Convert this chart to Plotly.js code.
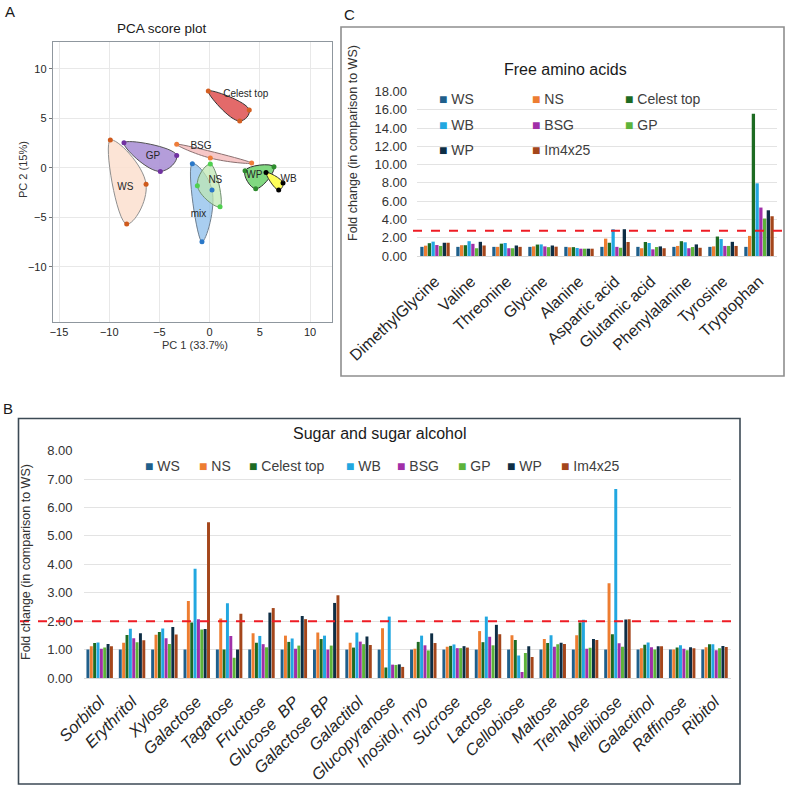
<!DOCTYPE html>
<html>
<head>
<meta charset="utf-8">
<script src="https://cdn.plot.ly/plotly-3.0.1.min.js"></script>
<style>
  html, body { margin: 0; padding: 0; background: #ffffff; }
  #fig { width: 794px; height: 792px; }
</style>
</head>
<body>
<div id="fig"></div>
<script>
// ---------------- series shared by the two bar panels ----------------
const seriesNames  = ['WS', 'NS', 'Celest top', 'WB', 'BSG', 'GP', 'WP', 'Im4x25'];
const seriesColors = ['#1f5f8b', '#ed7d31', '#1d6b22', '#22a7e0', '#a12fa8', '#5db33a', '#0e2e45', '#a4461b'];

// ---------------- panel C: free amino acids (fold change vs WS) ----------------
const aminoAcids = ['DimethylGlycine', 'Valine', 'Threonine', 'Glycine', 'Alanine',
                    'Aspartic acid', 'Glutamic acid', 'Phenylalanine', 'Tyrosine', 'Tryptophan'];
const aaWS     = [1, 1, 1, 1, 1, 1, 1, 1, 1, 1];
const aaNS     = [1.13, 1.18, 1.00, 1.05, 0.95, 1.90, 0.85, 1.10, 1.05, 2.20];
const aaCelest = [1.40, 1.18, 1.35, 1.25, 0.97, 1.45, 1.53, 1.62, 2.13, 15.55];
const aaWB     = [1.57, 1.62, 1.42, 1.27, 0.88, 2.93, 1.42, 1.50, 1.85, 7.95];
const aaBSG    = [1.20, 1.33, 0.85, 1.05, 0.80, 1.00, 0.73, 0.85, 1.10, 5.30];
const aaGP     = [1.10, 0.85, 0.85, 0.97, 0.80, 0.90, 0.98, 0.98, 1.10, 4.10];
const aaWP     = [1.45, 1.55, 1.15, 1.15, 0.80, 2.93, 1.05, 1.27, 1.55, 5.00];
const aaIm     = [1.45, 1.15, 1.00, 1.02, 0.80, 1.53, 0.85, 0.90, 1.10, 4.35];
const aaThreshold = 2.76;

// ---------------- panel B: sugars and sugar alcohols ----------------
const sugars = ['Sorbitol', 'Erythritol', 'Xylose', 'Galactose', 'Tagatose', 'Fructose',
                'Glucose  BP', 'Galactose BP', 'Galactitol', 'Glucopyranose', 'Inositol, myo',
                'Sucrose', 'Lactose', 'Cellobiose', 'Maltose', 'Trehalose', 'Melibiose',
                'Galactinol', 'Raffinose', 'Ribitol'];
const sgWS     = [1, 1, 1, 1, 1, 1, 1, 1, 1, 1, 1, 1, 1, 1, 1, 1, 1, 1, 1, 1];
const sgNS     = [1.12, 1.24, 1.52, 2.71, 2.09, 1.57, 1.49, 1.60, 1.24, 1.75, 1.03, 1.10, 1.65, 1.50, 1.37, 1.50, 3.33, 1.05, 1.00, 1.08];
const sgCelest = [1.23, 1.51, 1.62, 1.95, 1.00, 1.24, 1.27, 1.37, 1.07, 0.37, 1.27, 1.13, 1.26, 1.34, 1.23, 1.95, 1.54, 1.17, 1.07, 1.19];
const sgWB     = [1.25, 1.73, 1.74, 3.84, 2.63, 1.48, 1.39, 1.49, 1.60, 2.16, 1.49, 1.18, 2.16, 0.79, 1.50, 2.05, 6.65, 1.25, 1.15, 1.19];
const sgBSG    = [1.03, 1.40, 1.40, 2.07, 1.48, 1.19, 1.03, 1.00, 1.28, 0.47, 1.15, 1.05, 1.45, 0.21, 1.10, 1.03, 1.22, 1.08, 1.03, 0.98];
const sgGP     = [1.07, 1.26, 1.20, 1.71, 0.71, 1.08, 1.14, 1.14, 1.19, 0.46, 0.97, 1.05, 1.15, 0.88, 1.19, 1.06, 1.10, 1.00, 0.98, 1.05];
const sgWP     = [1.20, 1.57, 1.79, 1.72, 1.00, 2.30, 2.18, 2.64, 1.46, 0.48, 1.57, 1.12, 1.87, 1.12, 1.24, 1.37, 2.06, 1.12, 1.08, 1.13];
const sgIm     = [1.12, 1.33, 1.53, 5.48, 2.26, 2.46, 2.07, 2.91, 1.16, 0.39, 1.23, 1.07, 1.54, 0.74, 1.20, 1.34, 2.07, 1.12, 1.05, 1.09];
const sgThreshold = 2.0;

// ---------------- panel A: PCA scores (3 replicates per sample) ----------------
const pcaGroups = ['mix', 'NS', 'WS', 'GP', 'BSG', 'Celest top', 'WP', 'WB'];
const pcaPC1 = [
  [-0.76, -1.72, 0.24],     // mix
  [1.04, 0.07, -1.22],      // NS
  [-9.89, -6.33, -8.26],    // WS
  [-8.53, -3.28, -4.91],    // GP
  [-3.28, 4.19, 0.07],      // BSG
  [-0.13, 3.95, 3.00],      // Celest top
  [3.53, 6.41, 4.59],       // WP
  [5.62, 7.31, 6.88]        // WB
];
const pcaPC2 = [
  [-7.48, 0.42, -2.25],
  [-3.94, 0.38, -1.81],
  [2.81, -1.67, -5.69],
  [2.54, 1.26, -0.36],
  [2.38, 0.49, 0.99],
  [7.77, 5.85, 4.74],
  [-0.29, 0.11, -2.11],
  [-0.46, -1.54, -2.25]
];
const pcaLabelPC1 = [-1.10, 0.57, -8.40, -5.64, -0.86, 3.60, 4.45, 7.87];
const pcaLabelPC2 = [-4.71, -1.24, -1.94, 1.12, 2.14, 7.44, -0.80, -1.13];

// ---------------- styling ----------------
const FONT = 'Liberation Sans, Arial, sans-serif';
const W = 794, H = 792;
const px = v => v / W;           // horizontal pixel -> paper
const py = v => 1 - v / H;       // vertical pixel -> paper

const hullFill  = ['rgba(140,190,235,0.75)', 'rgba(190,232,178,0.72)', 'rgba(251,223,207,0.85)',
                   'rgba(172,146,214,0.9)', 'rgba(246,196,196,0.95)', 'rgba(226,98,98,0.95)',
                   'rgba(122,214,122,0.95)', 'rgba(255,255,90,1)'];
const hullLine  = ['#6f7f8f', '#6f8f6f', '#8f8f8f', '#555555', '#8a6f6f', '#333333', '#333333', '#333333'];
const pointCol  = ['#2a78c8', '#4fd04f', '#cf5a1c', '#7030a0', '#ee7d3a', '#d45f22', '#2e8b2e', '#000000'];

const traces = [];

// PCA hulls, points and labels
pcaGroups.forEach((g, i) => {
  const xs = pcaPC1[i].concat([pcaPC1[i][0]]);
  const ys = pcaPC2[i].concat([pcaPC2[i][0]]);
  traces.push({
    type: 'scatter', mode: 'lines', x: xs, y: ys, xaxis: 'x', yaxis: 'y',
    fill: 'toself', fillcolor: hullFill[i],
    line: { color: hullLine[i], width: 1, shape: 'spline', smoothing: 1.3 },
    hoverinfo: 'skip', showlegend: false
  });
});
pcaGroups.forEach((g, i) => {
  traces.push({
    type: 'scatter', mode: 'markers', x: pcaPC1[i], y: pcaPC2[i], xaxis: 'x', yaxis: 'y',
    marker: { color: pointCol[i], size: 5 }, name: g, showlegend: false
  });
});
traces.push({
  type: 'scatter', mode: 'text', x: pcaLabelPC1, y: pcaLabelPC2, text: pcaGroups,
  xaxis: 'x', yaxis: 'y', textfont: { family: FONT, size: 10, color: '#262626' },
  hoverinfo: 'skip', showlegend: false
});

// Amino acid bars (panel C)
[aaWS, aaNS, aaCelest, aaWB, aaBSG, aaGP, aaWP, aaIm].forEach((vals, i) => {
  traces.push({
    type: 'bar', x: aminoAcids, y: vals, name: seriesNames[i], xaxis: 'x3', yaxis: 'y3',
    marker: { color: seriesColors[i] }, showlegend: false
  });
});

// Sugar bars (panel B)
[sgWS, sgNS, sgCelest, sgWB, sgBSG, sgGP, sgWP, sgIm].forEach((vals, i) => {
  traces.push({
    type: 'bar', x: sugars, y: vals, name: seriesNames[i], xaxis: 'x2', yaxis: 'y2',
    marker: { color: seriesColors[i] }, showlegend: false
  });
});

// ---------------- annotations ----------------
const ann = [];
const txt = (text, x, y, size, extra) => Object.assign({
  text: text, x: px(x), y: py(y), xref: 'paper', yref: 'paper', showarrow: false,
  xanchor: 'center', yanchor: 'middle', font: { family: FONT, size: size, color: '#1a1a1a' }
}, extra || {});

ann.push(txt('A', 10, 12, 15));
ann.push(txt('C', 349, 15, 15));
ann.push(txt('B', 8, 408, 15));
ann.push(txt('PCA score plot', 162, 28, 13.5));
ann.push(txt('PC 1 (33.7%)', 195, 345, 11, { font: { family: FONT, size: 11, color: '#333' } }));
ann.push(txt('PC 2 (15%)', 23, 170, 11, { textangle: -90, font: { family: FONT, size: 11, color: '#333' } }));
ann.push(txt('Free amino acids', 565, 69, 16));
ann.push(txt('Sugar and sugar alcohol', 379, 433, 16));
ann.push(txt('Fold change (in comparison to WS)', 353, 143, 12.5, { textangle: -90, font: { family: FONT, size: 12.5, color: '#333' } }));
ann.push(txt('Fold change (in comparison to WS)', 26, 562, 12.5, { textangle: -90, font: { family: FONT, size: 12.5, color: '#333' } }));

// legend entries drawn as coloured squares with names
const legendEntry = (i, x, y) => ({
  text: '<span style="color:' + seriesColors[i] + '">■</span> ' + seriesNames[i],
  x: px(x), y: py(y), xref: 'paper', yref: 'paper', showarrow: false,
  xanchor: 'left', yanchor: 'middle', font: { family: FONT, size: 14, color: '#404040' }
});
const cCols = [437, 530, 623], cRows = [99, 124.5, 150];
seriesNames.forEach((n, i) => ann.push(legendEntry(i, cCols[i % 3], cRows[Math.floor(i / 3)])));
const bCols = [143, 196.5, 246.5, 344, 395, 455.5, 505, 558.5];
seriesNames.forEach((n, i) => ann.push(legendEntry(i, bCols[i], 466)));

// ---------------- shapes: panel frames and threshold lines ----------------
const shapes = [
  { type: 'rect', xref: 'paper', yref: 'paper', x0: px(341), x1: px(784), y0: py(376), y1: py(27),
    line: { color: '#8e8e8e', width: 1.6 }, fillcolor: 'rgba(0,0,0,0)', layer: 'below' },
  { type: 'rect', xref: 'paper', yref: 'paper', x0: px(18.5), x1: px(740), y0: py(784), y1: py(418.5),
    line: { color: '#3c4a55', width: 1.6 }, fillcolor: 'rgba(0,0,0,0)', layer: 'below' },
  { type: 'line', xref: 'paper', yref: 'y3', x0: px(413), x1: px(787), y0: aaThreshold, y1: aaThreshold,
    line: { color: '#ee1c25', width: 2, dash: 'dash' } },
  { type: 'line', xref: 'paper', yref: 'y2', x0: px(20), x1: px(738), y0: sgThreshold, y1: sgThreshold,
    line: { color: '#ee1c25', width: 2, dash: 'dash' } }
];

// ---------------- layout ----------------
const layout = {
  width: W, height: H,
  margin: { l: 0, r: 0, t: 0, b: 0 },
  paper_bgcolor: '#ffffff', plot_bgcolor: 'rgba(0,0,0,0)',
  font: { family: FONT, color: '#333' },
  showlegend: false,
  barmode: 'group', bargap: 0.17, bargroupgap: 0.12,
  // panel A
  xaxis: {
    domain: [px(53), px(332)], range: [-15.6, 12.19], anchor: 'y',
    tickvals: [-15, -10, -5, 0, 5, 10], ticks: '', ticklabelstandoff: 0,
    tickfont: { family: FONT, size: 11, color: '#262626' },
    showgrid: true, gridcolor: '#e8e8e8', zeroline: false,
    showline: true, mirror: true, linecolor: '#8f979e', linewidth: 1.2
  },
  yaxis: {
    domain: [py(322), py(42)], range: [-15.59, 12.73], anchor: 'x',
    tickvals: [-10, -5, 0, 5, 10], ticks: 'outside', ticklen: 3, tickcolor: '#777',
    tickfont: { family: FONT, size: 11, color: '#262626' },
    showgrid: true, gridcolor: '#e8e8e8', zeroline: false,
    showline: true, mirror: true, linecolor: '#8f979e', linewidth: 1.2
  },
  // panel B
  xaxis2: {
    domain: [px(83.5), px(730.7)], anchor: 'y2', type: 'category',
    tickangle: -45, ticklabelstandoff: 10,
    tickfont: { family: FONT, size: 16.5, color: '#262626', style: 'italic' },
    showgrid: false, showline: false, ticks: ''
  },
  yaxis2: {
    domain: [py(678), py(450)], range: [0, 8.02], anchor: 'x2',
    dtick: 1, tickformat: '.2f', ticklabelstandoff: 10,
    tickfont: { family: FONT, size: 13, color: '#333' },
    showgrid: true, gridcolor: '#e3e3e3', gridwidth: 1, zeroline: true, zerolinecolor: '#d8d8d8', showline: false
  },
  // panel C
  xaxis3: {
    domain: [px(417), px(777)], anchor: 'y3', type: 'category',
    tickangle: -43, ticklabelstandoff: 12,
    tickfont: { family: FONT, size: 16, color: '#262626' },
    showgrid: false, showline: false, ticks: ''
  },
  yaxis3: {
    domain: [py(256), py(91)], range: [0, 18.05], anchor: 'x3',
    dtick: 2, tickformat: '.2f', ticklabelstandoff: 9,
    tickfont: { family: FONT, size: 13, color: '#333' },
    showgrid: true, gridcolor: '#e3e3e3', gridwidth: 1, zeroline: true, zerolinecolor: '#d8d8d8', showline: false
  },
  annotations: ann,
  shapes: shapes
};

Plotly.newPlot('fig', traces, layout, { staticPlot: true, displayModeBar: false });
</script>
</body>
</html>
